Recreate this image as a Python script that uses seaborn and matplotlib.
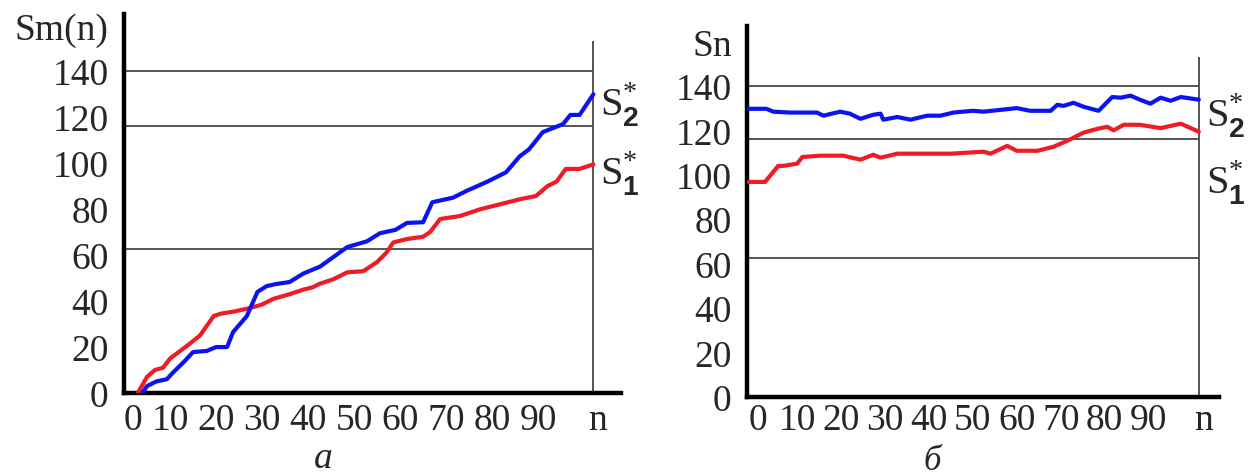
import pandas as pd
import seaborn as sns
import matplotlib.pyplot as plt

# --- данные ---
# а) накопленная сумма Sm(n)
a_red_n = [3, 5, 6.7, 8.5, 10, 12, 14, 16.5, 19.5, 21, 24, 27.5, 30, 32.5, 36, 39, 41, 42.5,
           45.5, 48.5, 52, 55, 57, 58.5, 61.5, 65, 66.5, 68.7, 73, 77.5, 81.5, 86, 89.5, 92,
           94, 96, 99, 102]
a_red_v = [0, 7, 10, 11, 15, 18, 21, 25, 33.5, 34.5, 35.5, 37, 38.5, 41, 43, 45, 46, 47.5,
           49.5, 52.5, 53, 57, 61, 65.5, 67, 68, 70, 75.7, 77, 80, 82, 84.3, 85.7, 90,
           92, 97.5, 97.5, 99.5]
a_blue_n = [4, 5, 7, 9.3, 10.7, 13, 15, 18, 20, 22.4, 23.7, 26.7, 29, 31, 33, 36, 39, 42.6,
            45.4, 48.5, 52.8, 55.6, 59, 61.5, 65, 67, 71.5, 74.5, 79, 83, 86, 88, 91, 95.4,
            97, 99, 102]
a_blue_v = [0, 3, 5, 6, 9, 13.5, 17.8, 18.3, 20, 20, 26.5, 33.5, 44, 46.5, 47.4, 48.3, 52, 55,
            59, 63.5, 66, 69.5, 71, 74, 74.3, 83, 85, 88, 92, 96, 103, 106, 113.5, 117,
            121, 121, 130]

# б) Sn
b_blue_n = [-1, 3, 4.6, 8.4, 14.5, 16, 19.8, 22, 24.4, 27.3, 29, 29.6, 32.8, 35.8, 39.6, 42.6,
            45.6, 50, 52.4, 60, 63, 67.7, 69.2, 70.6, 72.9, 75.2, 78.6, 79.7, 81.7, 83.6,
            85.9, 88, 90.4, 92.7, 95, 97.3, 101.4]
b_blue_v = [129.7, 129.7, 128.4, 128, 128, 126.6, 128.4, 127.5, 125.2, 127, 127.5, 124.8, 126,
            124.8, 126.6, 126.6, 128, 128.8, 128.4, 130, 128.8, 128.8, 131.5, 131, 132.4,
            130.6, 128.8, 131, 135, 134.7, 135.6, 133.8, 132, 134.7, 133.3, 135, 133.8]
b_red_n = [-1, 2.7, 5.7, 6.8, 10, 11.2, 15.3, 20.5, 24.4, 27.3, 29, 32.8, 45, 52.4, 54, 57.8,
           60, 64.7, 68.3, 71.5, 75.2, 78.4, 80.6, 82, 84.3, 88, 92.7, 97.3, 101.4]
b_red_v = [96.8, 96.8, 104, 104, 105, 108, 108.6, 108.6, 106.8, 109, 107.7, 109.5, 109.5,
           110.4, 109.5, 113, 110.8, 110.8, 112.6, 115.3, 119, 120.7, 121.6, 120, 122.5,
           122.5, 121, 123, 119.4]

levels = [140, 116, 62.5]
y_ticks = [0, 20, 40, 60, 80, 100, 120, 140, 160]
x_labels = ['0', '10', '20', '30', '40', '50', '60', '70', '80', '90', 'n']

sns.set_style("white")
plt.rcParams['font.family'] = ['Liberation Serif', 'DejaVu Serif']
plt.rcParams['mathtext.fontset'] = 'custom'
plt.rcParams['mathtext.rm'] = 'Liberation Serif'
plt.rcParams['mathtext.bf'] = 'Liberation Sans:bold'


def make_df(rn, rv, bn, bv):
    d1 = pd.DataFrame({'n': rn, 'S': rv, 'ряд': 'S1'})
    d2 = pd.DataFrame({'n': bn, 'S': bv, 'ряд': 'S2'})
    return pd.concat([d1, d2], ignore_index=True)


def draw(ax, df, ylabel, xlim, ylim, x0, vline_x, lab_y, xpad):
    sns.lineplot(data=df, x='n', y='S', hue='ряд', palette={'S1': '#ee1c24', 'S2': '#0a14f0'},
                 estimator=None, sort=False, linewidth=3, legend=False, ax=ax, zorder=3)
    ax.hlines(levels, xlim[0], vline_x, color='#555555', linewidth=1.4, zorder=1)
    ax.vlines(vline_x, 0, 153, color='#555555', linewidth=1.4, zorder=1)
    ax.set_xlim(*xlim)
    ax.set_ylim(*ylim)
    ax.set_yticks(y_ticks)
    ax.set_yticklabels([str(t) for t in y_ticks[:-1]] + [ylabel])
    ax.set_xticks([x0] + list(range(10, 100, 10)) + [vline_x + 1])
    ax.set_xticklabels(x_labels)
    ax.tick_params(axis='y', direction='out', length=6, width=3, pad=5, labelsize=27)
    ax.tick_params(axis='x', length=0, pad=xpad, labelsize=27)
    for s in ['top', 'right']:
        ax.spines[s].set_visible(False)
    for s in ['left', 'bottom']:
        ax.spines[s].set_linewidth(3.2)
        ax.spines[s].set_color('black')
    ax.set_xlabel('')
    ax.set_ylabel('')
    ax.text(vline_x + 1.5, lab_y[0], r'$\mathrm{S}^{*}_{\mathbf{2}}$', fontsize=29,
            va='center', ha='left', clip_on=False)
    ax.text(vline_x + 1.5, lab_y[1], r'$\mathrm{S}^{*}_{\mathbf{1}}$', fontsize=29,
            va='center', ha='left', clip_on=False)


fig = plt.figure(figsize=(12.5, 4.77), dpi=100)
ax1 = fig.add_axes([0.0992, 0.174, 0.3976, 0.795])
ax2 = fig.add_axes([0.5976, 0.1656, 0.3776, 0.778])

draw(ax1, make_df(a_red_n, a_red_v, a_blue_n, a_blue_v), 'Sm(n)',
     (0, 108), (0, 165), 2, 102, (126, 96), 7)
draw(ax2, make_df(b_red_n, b_red_v, b_blue_n, b_blue_v), 'Sn',
     (-1.4, 106), (0, 167), 1, 101.5, (127, 97), 4)

fig.text(323 / 1250, 1 - 459 / 477, 'а', fontsize=27, style='italic', ha='center', va='center')
fig.text(932 / 1250, 1 - 462 / 477, 'б', fontsize=25, style='italic', ha='center', va='center')

fig.savefig('out.png', dpi=100)
